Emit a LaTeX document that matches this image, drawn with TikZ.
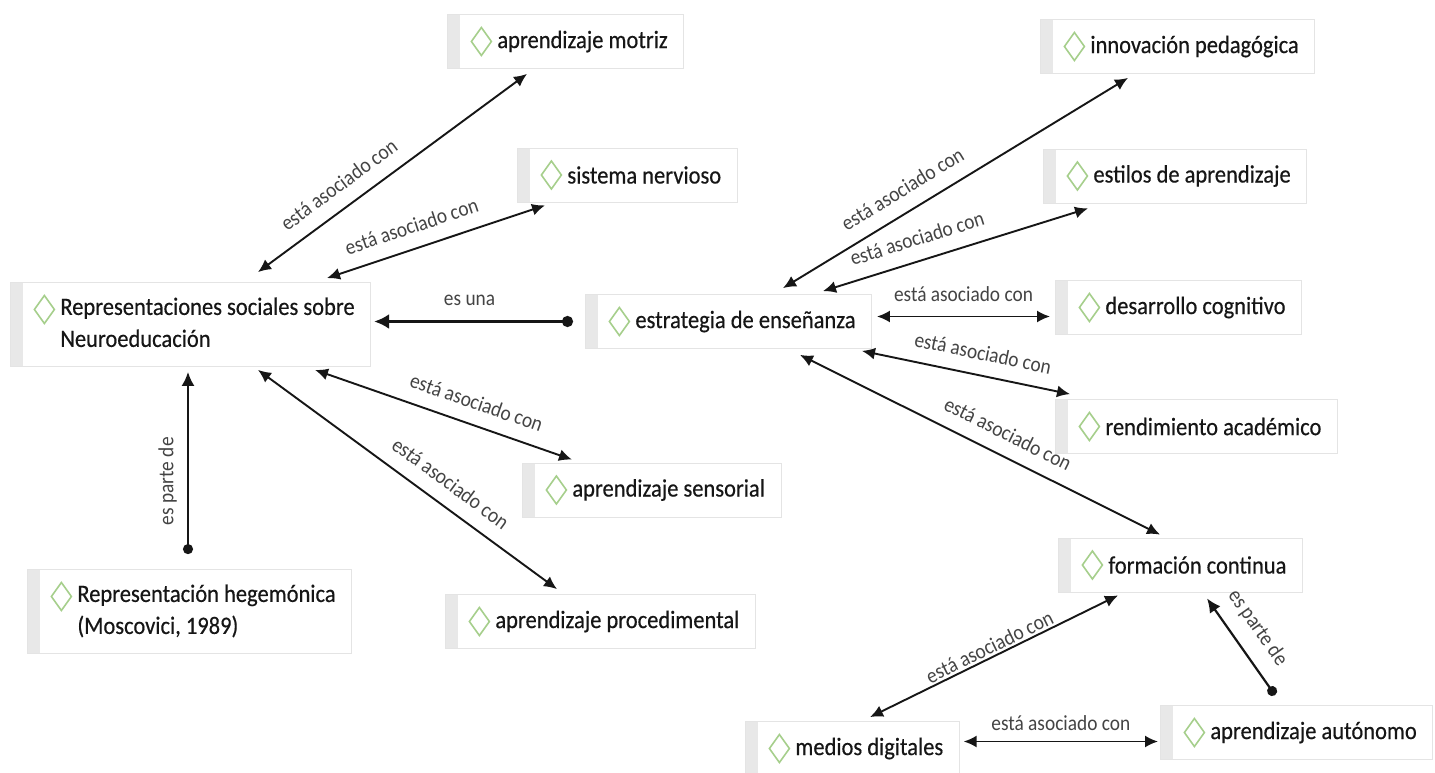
\documentclass[tikz,border=0pt]{standalone}
\usepackage{fontspec}
\setmainfont{Carlito}[FakeStretch=0.9]
\newfontfamily\conceptfont{Carlito}[FakeStretch=0.9, FakeBold=0.4]
\usetikzlibrary{arrows.meta}

\definecolor{inkc}{HTML}{161616}
\definecolor{labc}{HTML}{444444}
\definecolor{boxline}{HTML}{E4E4E4}
\definecolor{stripc}{HTML}{E8E8E8}
\definecolor{diamc}{HTML}{A6CF8C}

\newcommand{\cstack}[1]{\begin{tabular}{@{}l@{}}#1\end{tabular}}

\begin{document}
\begin{tikzpicture}[x=1pt,y=-1pt,
    concept/.style={draw=boxline, fill=white, line width=0.8pt, anchor=west,
        minimum height=54pt, inner xsep=16pt, inner ysep=10pt, text=inkc,
        font=\conceptfont\fontsize{25}{32}\selectfont,
        execute at begin node={\hspace*{34pt}},
        path picture={
            \fill[stripc] (path picture bounding box.north west)
                rectangle ([xshift=13pt]path picture bounding box.south west);
            \draw[diamc, line width=1.6pt]
                ([xshift=24pt,yshift=-27pt]path picture bounding box.north west)
                -- ++(10pt,14pt) -- ++(10pt,-14pt) -- ++(-10pt,-14pt) -- cycle;
        }},
    lab/.style={sloped, above, inner sep=2pt, yshift=12pt, text=labc,
        font=\fontsize{21.5}{22}\selectfont},
    assoc/.style={{Latex[length=13pt,width=12pt]}-{Latex[length=13pt,width=12pt]},
        line width=1.9pt, draw=inkc},
    part/.style={{Circle[length=10pt]}-{Latex[length=14pt,width=13pt]},
        line width=2.2pt, draw=inkc},
    isa/.style={{Circle[length=11pt]}-{Latex[length=15pt,width=15pt]},
        line width=3.6pt, draw=inkc}]

    \fill[white] (0,0) rectangle (1435,773);
    \useasboundingbox (0,0) rectangle (1435,773);

    \node[concept] (motriz)        at (447,41.5)  {aprendizaje motriz};
    \node[concept] (nervioso)      at (517,175)   {sistema nervioso};
    \node[concept] (repr)          at (10,324.5)  {\cstack{Representaciones sociales sobre\\Neuroeducación}};
    \node[concept] (estrategia)    at (585,321.5) {estrategia de enseñanza};
    \node[concept] (sensorial)     at (522,490)   {aprendizaje sensorial};
    \node[concept] (procedimental) at (445,621.5) {aprendizaje procedimental};
    \node[concept] (hegemonica)    at (27,611.5)  {\cstack{Representación hegemónica\\(Moscovici, 1989)}};
    \node[concept] (innovacion)    at (1040,46.5) {innovación pedagógica};
    \node[concept] (estilos)       at (1043,176)  {estilos de aprendizaje};
    \node[concept] (desarrollo)    at (1055,307.5) {desarrollo cognitivo};
    \node[concept] (rendimiento)   at (1055,426.5) {rendimiento académico};
    \node[concept] (formacion)     at (1058,565)  {formación continua};
    \node[concept] (medios)        at (745,748.5) {medios digitales};
    \node[concept] (autonomo)      at (1160,732.5) {aprendizaje autónomo};

    \path
        ([xshift=248pt,yshift=10pt]repr.north west)
            edge[assoc] node[lab, pos=.35] {está asociado con}
            ([xshift=80pt,yshift=-5pt]motriz.south west)
        ([xshift=317pt,yshift=4pt]repr.north west)
            edge[assoc] node[lab, pos=.42] {está asociado con}
            ([xshift=28pt,yshift=-3pt]nervioso.south west)
        ([xshift=-12pt]estrategia.west)
            edge[isa] node[lab, pos=.52] {es una}
            ([xshift=3pt]estrategia.west -| repr.east)
        ([xshift=305pt,yshift=-3pt]repr.south west)
            edge[assoc] node[lab, pos=.6] {está asociado con}
            ([xshift=50pt,yshift=3pt]sensorial.north west)
        ([xshift=248pt,yshift=-3pt]repr.south west)
            edge[assoc] node[lab, pos=.6] {está asociado con}
            ([xshift=112pt,yshift=5pt]procedimental.north west)
        ([xshift=161pt,yshift=15pt]hegemonica.north west)
            edge[part] node[lab, pos=.4, yshift=-4pt] {es parte de}
            ([xshift=178pt,yshift=-5pt]repr.south west);

    \path
        ([xshift=198pt,yshift=6pt]estrategia.north west)
            edge[assoc] node[lab, pos=.38] {está asociado con}
            ([xshift=88pt,yshift=-4pt]innovacion.south west)
        ([xshift=238pt,yshift=3pt]estrategia.north west)
            edge[assoc] node[lab, pos=.38] {está asociado con}
            ([xshift=45pt,yshift=-5pt]estilos.south west)
        ([xshift=5pt,yshift=5pt]estrategia.east)
            edge[assoc] node[lab, pos=.5] {está asociado con}
            ([xshift=-5pt,yshift=5pt]estrategia.east -| desarrollo.west)
        ([xshift=277pt,yshift=-2pt]estrategia.south west)
            edge[assoc] node[lab, pos=.56] {está asociado con}
            ([xshift=15pt,yshift=5pt]rendimiento.north west)
        ([xshift=215pt,yshift=-6pt]estrategia.south west)
            edge[assoc] node[lab, pos=.55] {está asociado con}
            ([xshift=102pt,yshift=3pt]formacion.north west)
        ([xshift=60pt,yshift=-3pt]formacion.south west)
            edge[assoc] node[lab, pos=.5, yshift=-12pt] {está asociado con}
            ([xshift=125pt,yshift=4pt]medios.north west)
        ([xshift=4pt,yshift=7pt]medios.east)
            edge[assoc] node[lab, pos=.5, yshift=-4pt] {está asociado con}
            ([xshift=-2pt,yshift=7pt]medios.east -| autonomo.west)
        ([xshift=115pt,yshift=10pt]autonomo.north west)
            edge[part] node[lab, pos=.55] {es parte de}
            ([xshift=149pt,yshift=-6pt]formacion.south west);
\end{tikzpicture}
\end{document}
